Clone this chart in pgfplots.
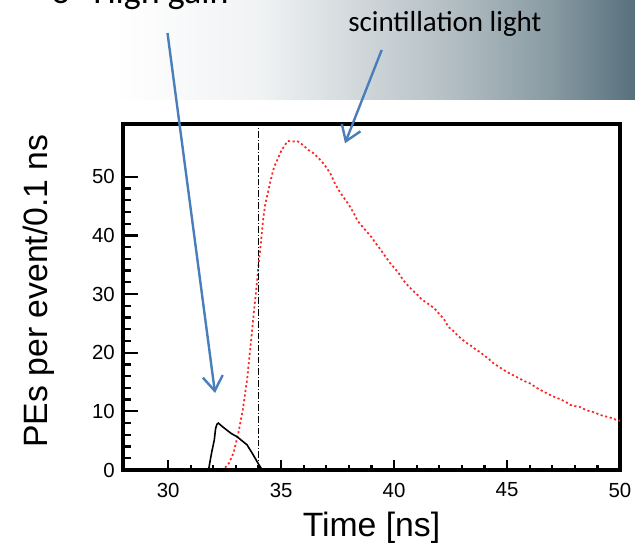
\documentclass[border=0pt]{standalone}
\usepackage{fontspec}
\setmainfont{Liberation Sans}
\newfontfamily\calibri{Carlito}
\usepackage{pgfplots}
\usepackage{pgfplotstable}
\pgfplotsset{compat=1.18}
\usetikzlibrary{arrows.meta}

\definecolor{slate}{HTML}{57707C}
\definecolor{annblue}{HTML}{4A7EBB}
\definecolor{sigred}{HTML}{FF2424}

% slide banner: white on the left, slate grey on the right
\pgfdeclarehorizontalshading{banner}{100bp}{%
  color(0bp)=(white); color(25bp)=(white); color(34bp)=(white);
  color(45.5bp)=(white!91!slate); color(51bp)=(white!78!slate);
  color(60.4bp)=(white!55!slate); color(68.3bp)=(white!30!slate);
  color(75bp)=(slate); color(100bp)=(slate)}

% scintillation light, PEs per event per 0.1 ns
\pgfplotstableread{
t     pe
28.0  0
32.3  0
32.5  0.3
32.7  1.2
32.9  3.0
33.1  6.2
33.3  10.2
33.5  15.6
33.6  19.5
33.7  23.2
33.8  27.2
33.9  30.8
34.0  35.0
34.1  38.6
34.2  42.6
34.3  45.4
34.4  47.0
34.5  48.8
34.6  50.4
34.7  51.8
34.8  52.6
34.9  53.5
35.0  54.4
35.1  55.0
35.2  55.6
35.3  56.1
35.5  56.0
35.7  56.1
35.8  55.9
36.0  55.3
36.2  54.6
36.4  54.1
36.6  53.4
36.8  52.6
37.0  51.6
37.2  50.4
37.4  48.7
37.6  47.4
37.8  46.3
38.0  45.2
38.2  43.9
38.4  42.4
38.6  41.5
38.8  40.6
39.0  39.7
39.2  38.6
39.4  37.6
39.6  36.5
39.8  35.4
40.0  34.5
40.2  33.6
40.4  32.4
40.6  31.5
40.8  30.7
41.0  30.0
41.2  29.2
41.4  28.6
41.6  28.1
41.8  27.5
42.0  26.6
42.2  25.8
42.4  24.4
42.6  23.8
42.8  23.0
43.0  22.3
43.2  21.7
43.4  21.2
43.6  20.6
43.8  20.1
44.0  19.5
44.2  18.9
44.4  18.2
44.6  17.7
44.8  17.2
45.0  16.7
45.2  16.3
45.4  15.9
45.6  15.5
45.8  15.1
46.0  14.8
46.2  14.3
46.4  13.8
46.6  13.4
46.8  13.0
47.0  12.6
47.2  12.3
47.4  12.0
47.6  11.6
47.8  11.1
48.0  10.9
48.2  10.8
48.4  10.4
48.6  10.1
48.8  9.9
49.0  9.6
49.2  9.3
49.4  9.1
49.6  8.9
49.8  8.6
50.0  8.4
}\scint

% high-gain pulse
\pgfplotstableread{
t     pe
28.0  0
31.75 0
31.8  0.3
31.85 1.4
31.93 3.1
32.04 5.1
32.1  7.1
32.16 7.8
32.22 8.0
32.4  7.4
32.6  6.8
32.8  6.2
33.04 5.7
33.2  5.2
33.49 4.3
33.6  3.6
33.7  3.0
33.85 2.0
34.0  1.0
34.15 0.1
34.2  0
50.0  0
}\highgain

\pgfplotsset{
  frame/.style={
    at={(92.25pt,54.75pt)}, anchor=south west,
    scale only axis, width=372.75pt, height=259.5pt,
    xmin=28, xmax=50, ymin=0, ymax=59,
    xtick={30,35,40,45,50}, ytick={0,10,...,50},
    minor x tick num=4, minor y tick num=4,
    tick align=inside,
    axis line style={black, line width=2.4pt},
    tick style={black, line width=1.7pt},
  },
}

\begin{document}
\begin{tikzpicture}
\useasboundingbox (0pt,0pt) rectangle (476.25pt,407.25pt);
\clip (0pt,0pt) rectangle (476.25pt,407.25pt);
\shade[shading=banner] (0pt,332.25pt) rectangle (476.25pt,407.25pt);

\begin{axis}[
  frame,
  xtick pos=bottom, ytick pos=left,
  major tick length=11pt, minor tick length=6pt,
  xtick style={draw=none},
  /pgf/number format/assume math mode=true,
  tick label style={font=\fontsize{15.3}{17}\selectfont},
  xticklabel style={inner sep=0pt, anchor=north, yshift=-9.4pt},
  yticklabel style={inner sep=0pt, anchor=east, xshift=-6pt},
  label style={font=\fontsize{25.3}{30}\selectfont},
  xlabel={Time [ns]},
  ylabel={PEs per event/0.1 ns},
  xlabel style={at={(axis description cs:0.5,-0.1936)}, anchor=base},
  ylabel style={at={(axis description cs:-0.1529,0.517)}, anchor=base},
]
\addplot[sigred, line width=1.3pt, dash pattern=on 1.6pt off 1.9pt] table[x=t, y=pe] {\scint};
\addplot[black, line width=1.2pt] table[x=t, y=pe] {\highgain};
\addplot[black, line width=1.1pt, dash pattern=on 5pt off 1.5pt on 0.9pt off 1.5pt] coordinates {(34,0) (34,59)};
\end{axis}

% shorter ticks along the time axis
\begin{axis}[
  frame,
  hide y axis,
  axis x line*=bottom,
  xticklabels={},
  major tick length=7.5pt, minor tick length=4pt,
]
\end{axis}

% slide annotations, positioned from the top-left corner
\begin{scope}[x=0.75pt, y=-0.75pt, shift={(0,-543)}]
\node[anchor=base west, inner sep=0pt, font=\calibri\fontsize{27}{30}\selectfont] at (51,3.5) {o};
\node[anchor=base west, inner sep=0pt, font=\calibri\fontsize{27}{30}\selectfont] at (93,3.5) {High gain};
\node[anchor=base west, inner sep=0pt, font=\calibri\fontsize{21.75}{24}\selectfont] at (348,32) {scintillation light};
\draw[annblue, line width=1.8pt, -{Straight Barb[length=11pt, width=15pt, line width=1.8pt]}] (167.5,33) -- (215,393);
\draw[annblue, line width=1.8pt, -{Straight Barb[length=11pt, width=15pt, line width=1.8pt]}] (381.7,50) -- (345,143.3);
\end{scope}
\end{tikzpicture}
\end{document}
